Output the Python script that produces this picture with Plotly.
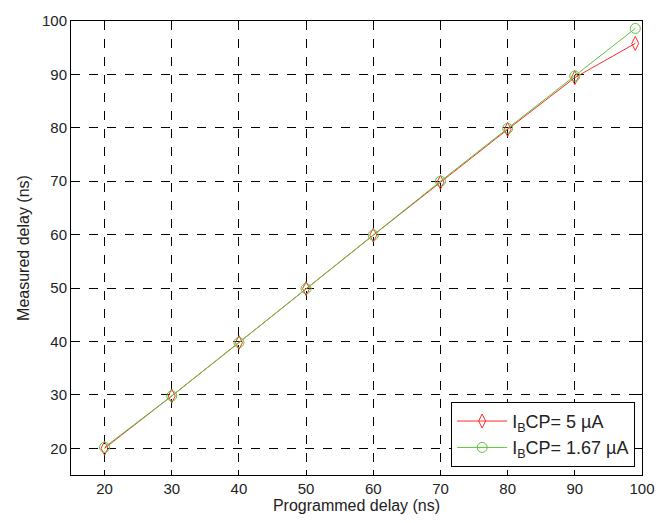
import plotly.graph_objects as go

# Programmed vs. measured delay (ns)
programmed = [20, 30, 40, 50, 60, 70, 80, 90, 99]
measured_5uA = [20.0, 29.8, 39.8, 49.9, 59.9, 69.8, 79.7, 89.4, 95.8]
measured_167uA = [20.2, 29.8, 39.8, 49.9, 59.9, 70.0, 79.9, 89.7, 98.6]

x_ticks = [20, 30, 40, 50, 60, 70, 80, 90, 100]
y_ticks = [20, 30, 40, 50, 60, 70, 80, 90, 100]

font_family = "Liberation Sans, Arial, sans-serif"

fig = go.Figure()
fig.add_trace(go.Scatter(
    x=programmed, y=measured_5uA, mode="lines+markers",
    name="I<sub>B</sub>CP= 5 \u00b5A",
    line=dict(color="#ff2a2a", width=1),
    marker=dict(symbol="diamond-tall-open", size=10, color="#ff2a2a",
                line=dict(width=1, color="#ff2a2a")),
))
fig.add_trace(go.Scatter(
    x=programmed, y=measured_167uA, mode="lines+markers",
    name="I<sub>B</sub>CP= 1.67 \u00b5A",
    line=dict(color="#5cc43c", width=1),
    marker=dict(symbol="circle-open", size=10, color="#5cc43c",
                line=dict(width=1, color="#5cc43c")),
))

axis_common = dict(
    showline=True, linecolor="black", linewidth=1, mirror="ticks",
    ticks="inside", ticklen=5, tickcolor="black",
    showgrid=True, gridcolor="black", gridwidth=1, griddash="dash",
    zeroline=False,
    tickfont=dict(family=font_family, size=15, color="#222"),
    title_font=dict(family=font_family, size=16, color="#222"),
)

fig.update_xaxes(range=[15, 100], tickvals=x_ticks,
                 title_text="Programmed delay (ns)", title_standoff=2,
                 **axis_common)
fig.update_yaxes(range=[15, 100], tickvals=y_ticks,
                 title_text="Measured delay (ns)", title_standoff=8,
                 **axis_common)

fig.update_layout(
    width=667, height=523,
    margin=dict(l=71, r=17, t=17, b=48),
    paper_bgcolor="white", plot_bgcolor="white",
    font=dict(family=font_family, size=15, color="#222"),
    legend=dict(
        x=0.988, y=0.018, xanchor="right", yanchor="bottom",
        bgcolor="white", bordercolor="black", borderwidth=1,
        font=dict(family=font_family, size=18, color="#222"),
        itemwidth=50, tracegroupgap=4,
    ),
    showlegend=True,
)

fig.write_html("out.html")
